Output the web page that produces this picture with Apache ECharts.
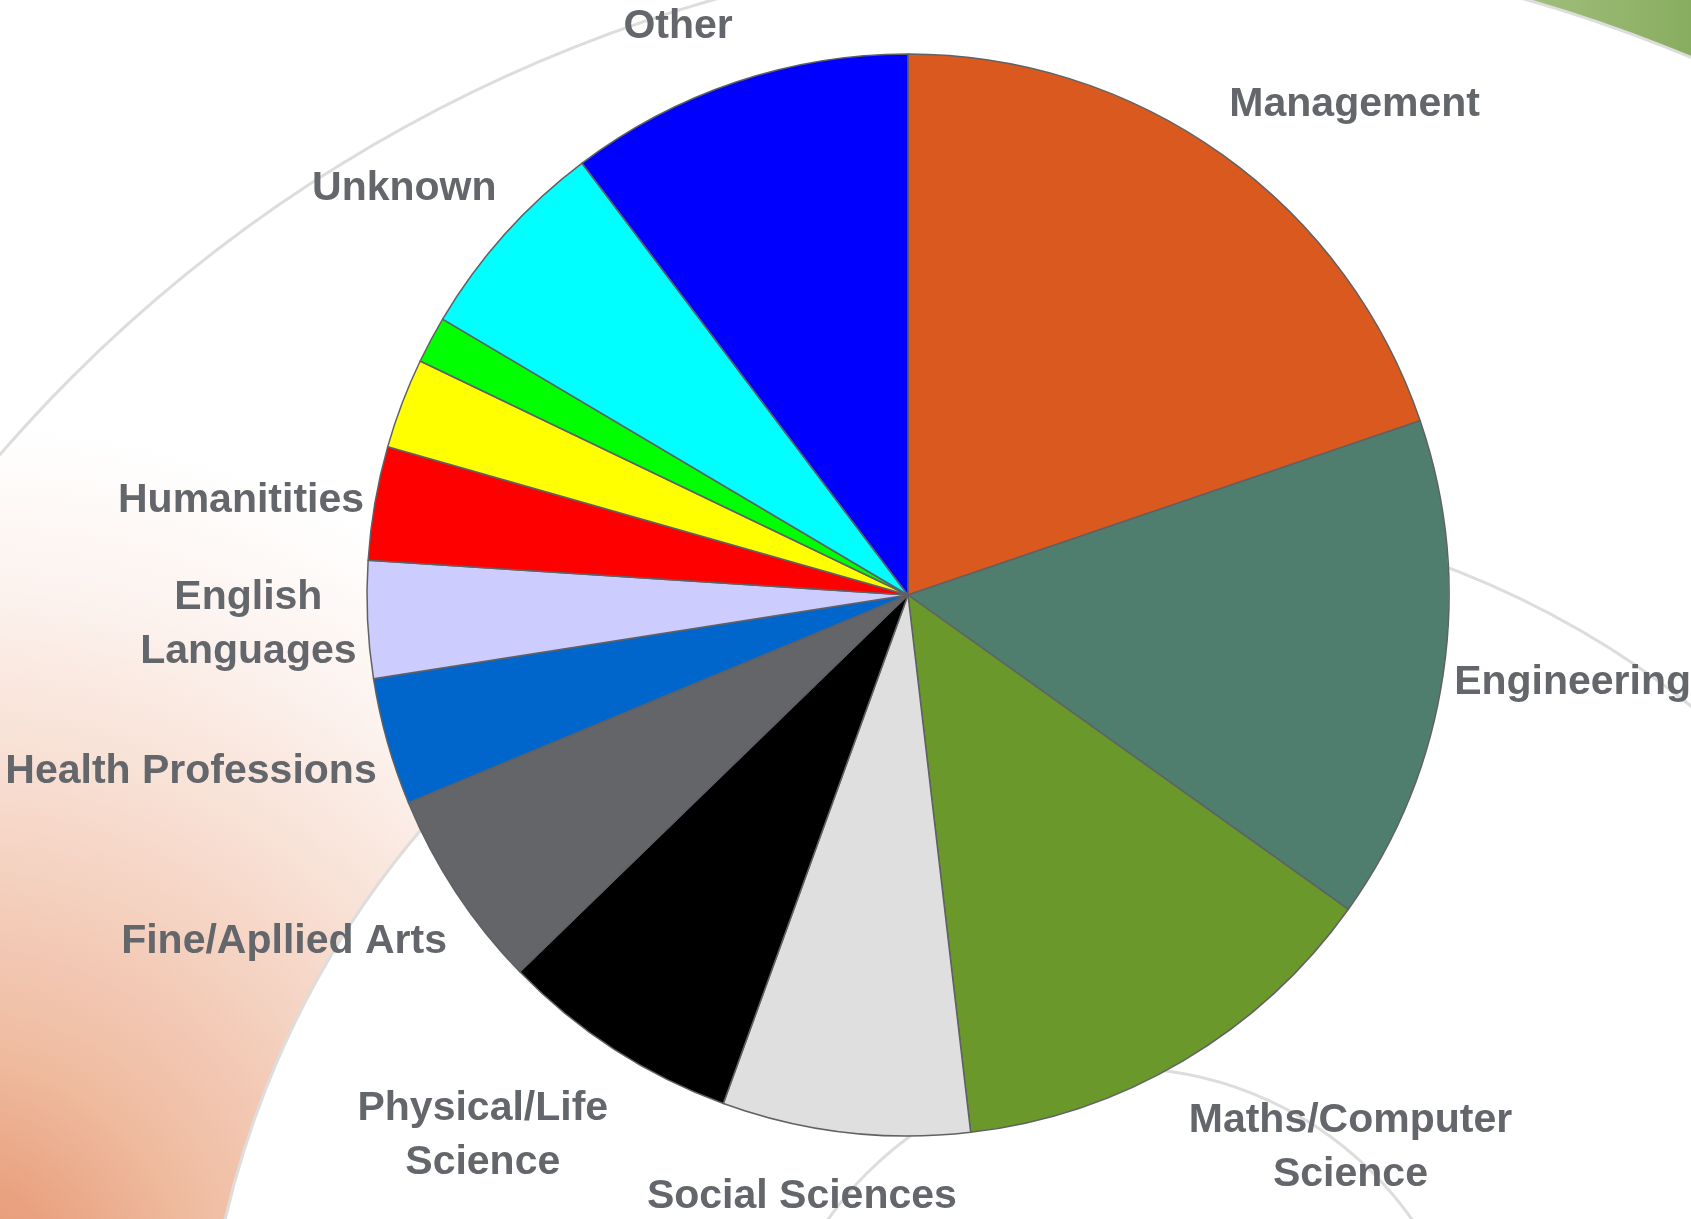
<!DOCTYPE html>
<html style="height: 100%">
<head>
    <meta charset="utf-8">
</head>
<body style="height: 100%; margin: 0; background: #ffffff">
<div id="container" style="width: 1691px; height: 1219px"></div>
<script type="text/javascript" src="https://cdn.jsdelivr.net/npm/echarts@6/dist/echarts.min.js"></script>
<script type="text/javascript">
    // slices go clockwise from 12 o'clock; the yellow and green slices carry no label
    var categories = ['Management', 'Engineering', 'Maths/Computer\nScience', 'Social Sciences',
        'Physical/Life\nScience', 'Fine/Apllied Arts', 'Health Professions', 'English\nLanguages',
        'Humanitities', '', '', 'Unknown', 'Other'];
    var shares = [19.8, 15.1, 13.3, 7.4, 7.2, 6.0, 3.8, 3.5, 3.4, 2.7, 1.4, 6.2, 10.3];
    var sliceColors = ['#d9591e', '#507e6e', '#6a982a', '#dfdfdf', '#000000', '#636569', '#0066cc',
        '#ccccff', '#ff0000', '#ffff00', '#00ff00', '#00ffff', '#0000ff'];

    var dom = document.getElementById("container");
    var myChart = echarts.init(dom);

    var cx = 908, cy = 595, pieR = 541;
    // labels sit just outside the (slightly taller than wide) original pie
    var labelCy = 599, labelRx = 552, labelRy = 575;

    var total = 0;
    shares.forEach(function (v) { total += v; });
    var midAngles = [];
    var acc = 0;
    shares.forEach(function (v) {
        midAngles.push((acc + v / 2) / total * 2 * Math.PI);
        acc += v;
    });

    var pieData = categories.map(function (name, i) {
        return {name: name, value: shares[i], itemStyle: {color: sliceColors[i]}};
    });

    function clamp01(v) {
        return Math.max(0, Math.min(1, v));
    }

    // background decoration: concentric arcs of the slide template
    var bx = 1120, by = 1425;
    var arcStroke = {fill: 'none', stroke: '#dddddd', lineWidth: 3};

    option = {
        backgroundColor: '#ffffff',
        animation: false,
        graphic: [
            {
                type: 'ring', z: 0, silent: true,
                shape: {cx: bx, cy: by, r0: 918, r: 1482},
                style: {
                    fill: {
                        type: 'radial', x: -50, y: 1300, r: 1000, global: true,
                        colorStops: [
                            {offset: 0, color: '#e6966f'},
                            {offset: 0.12, color: '#e9a280'},
                            {offset: 0.25, color: '#efbb9f'},
                            {offset: 0.35, color: '#f2c7b2'},
                            {offset: 0.55, color: '#f8e0d4'},
                            {offset: 0.72, color: '#fcf3ef'},
                            {offset: 0.88, color: '#ffffff'},
                            {offset: 1, color: '#ffffff'}
                        ]
                    }
                }
            },
            {
                type: 'sector', z: 0, silent: true,
                shape: {cx: bx, cy: by, r0: 1482, r: 2400, startAngle: -Math.PI / 2, endAngle: 0},
                style: {
                    fill: {
                        type: 'linear', x: 1000, y: 0, x2: 1691, y2: 0, global: true,
                        colorStops: [
                            {offset: 0, color: 'rgba(255,255,255,0)'},
                            {offset: 0.6, color: 'rgba(255,255,255,0)'},
                            {offset: 0.7, color: '#a7c385'},
                            {offset: 1, color: '#88ad5f'}
                        ]
                    }
                }
            },
            {type: 'circle', z: 1, silent: true, shape: {cx: bx, cy: by, r: 357}, style: arcStroke},
            {type: 'circle', z: 1, silent: true, shape: {cx: bx, cy: by, r: 918}, style: arcStroke},
            {type: 'circle', z: 1, silent: true, shape: {cx: bx, cy: by, r: 1482}, style: arcStroke}
        ],
        series: [
            {
                type: 'pie',
                z: 5,
                center: [cx, cy],
                radius: pieR,
                startAngle: 90,
                clockwise: true,
                avoidLabelOverlap: false,
                itemStyle: {borderColor: '#5f6164', borderWidth: 1.5},
                label: {
                    show: true,
                    position: 'outside',
                    formatter: '{b}',
                    color: '#63666a',
                    fontFamily: 'Liberation Sans',
                    fontWeight: 'bold',
                    fontSize: 41,
                    lineHeight: 54,
                    align: 'center'
                },
                labelLine: {show: false},
                labelLayout: function (p) {
                    var a = midAngles[p.dataIndex];
                    var dx = Math.sin(a), dy = -Math.cos(a);
                    var px = cx + labelRx * dx, py = labelCy + labelRy * dy;
                    var sx = Math.sign(dx) * clamp01(3.6 * Math.abs(dx) - 0.145);
                    var sy = Math.sign(dy) * clamp01((Math.abs(dy) - 0.17) * 6);
                    return {
                        x: px + sx * p.labelRect.width / 2,
                        y: py + sy * p.labelRect.height / 2,
                        align: 'center',
                        verticalAlign: 'middle'
                    };
                },
                emphasis: {disabled: true},
                data: pieData
            }
        ]
    };

    if (option && typeof option === "object") {
        myChart.setOption(option, true);
    }
</script>
</body>
</html>
